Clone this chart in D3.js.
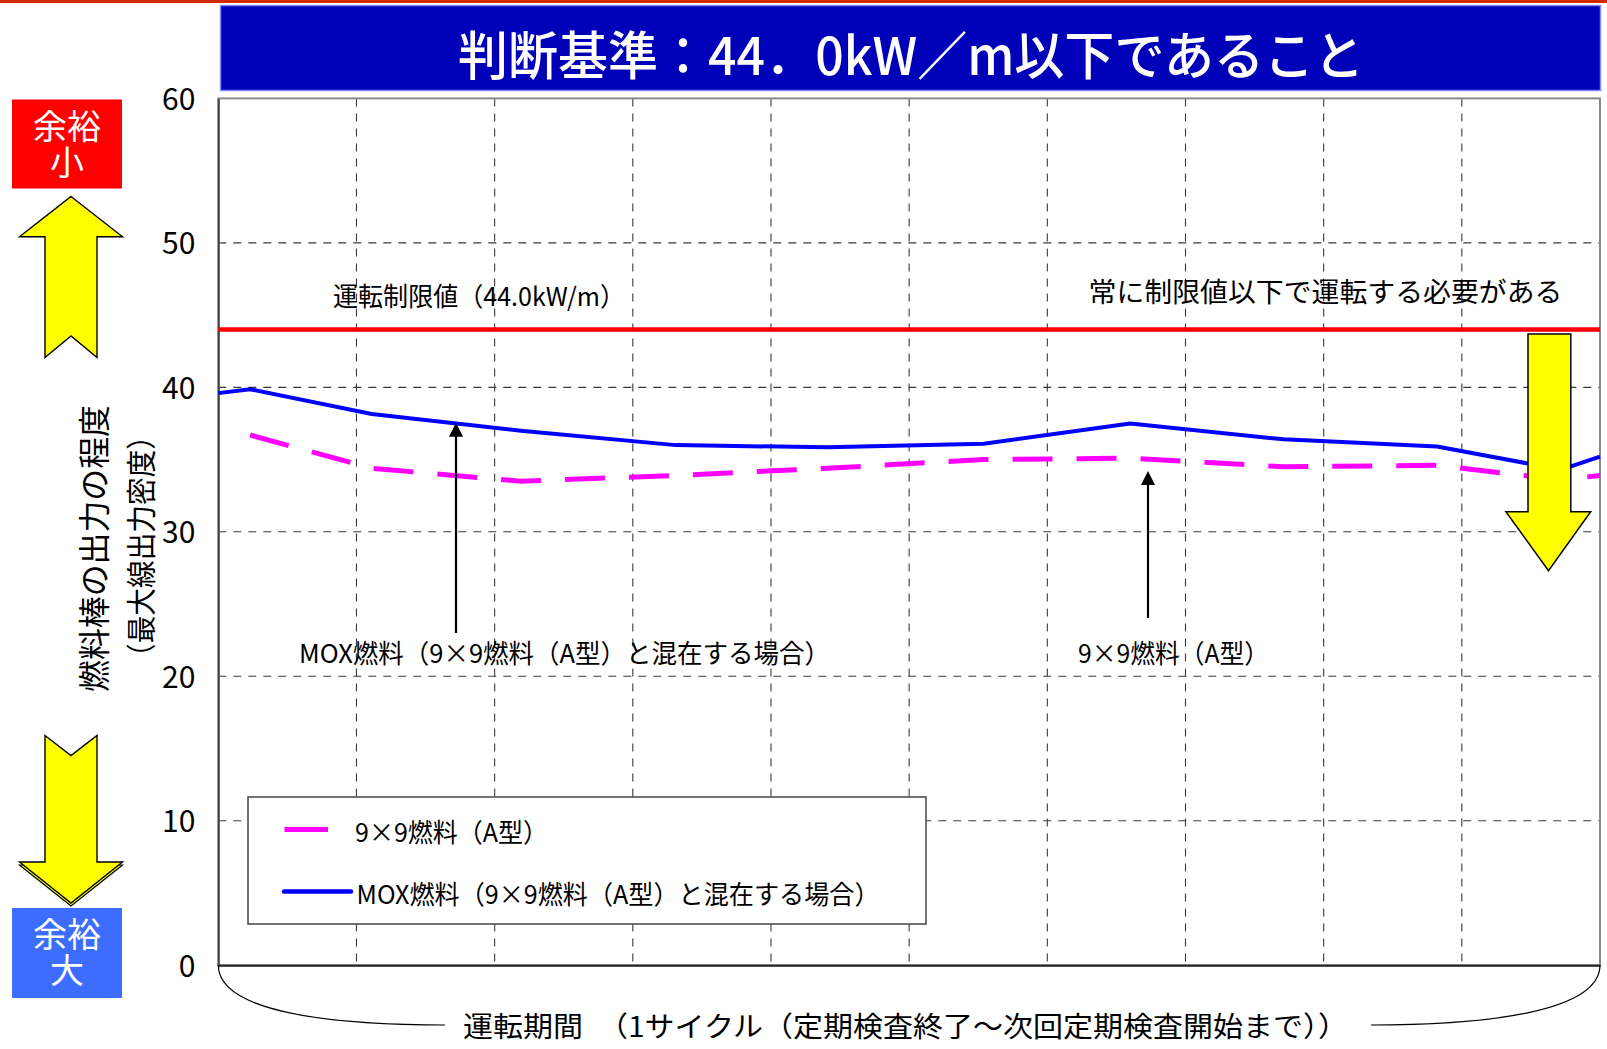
<!DOCTYPE html>
<html>
<head>
<meta charset="utf-8">
<script src="https://cdn.jsdelivr.net/npm/d3@7"></script>
<style>
  html, body { margin: 0; padding: 0; background: #fff; }
  svg { display: block; }
  text { font-family: "Noto Sans CJK JP", "Noto Sans", sans-serif; }
</style>
</head>
<body>
<svg id="chart" width="1607" height="1049"></svg>
<script>
// Position within one operating cycle (0 = start, 10 = end of cycle)
const cyclePosMox = [0, 0.23, 1.11, 2.19, 3.31, 4.41, 5.54, 6.60, 7.71, 8.82, 9.72, 10];
// MOX fuel mixed with 9x9 (type A): maximum linear heat rate, kW/m
const moxValues = [39.6, 39.87, 38.15, 37.0, 36.0, 35.85, 36.1, 37.5, 36.4, 35.9, 34.3, 35.2];

const cyclePos9x9 = [0.23, 1.11, 2.19, 3.31, 4.41, 5.54, 6.60, 7.71, 8.82, 9.72, 10];
// 9x9 fuel (type A): maximum linear heat rate, kW/m
const values9x9 = [36.7, 34.4, 33.5, 33.9, 34.4, 35.0, 35.1, 34.5, 34.6, 33.6, 33.9];

// Operating limit, kW/m
const limitValue = 44.0;

const yTicks = [0, 10, 20, 30, 40, 50, 60];
const xGridTicks = [1, 2, 3, 4, 5, 6, 7, 8, 9];

const titleText = "判断基準：44．0kW／m以下であること";
const limitLabel = "運転制限値（44.0kW/m）";
const noteLabel = "常に制限値以下で運転する必要がある";
const seriesNames = ["9×9燃料（A型）", "MOX燃料（9×9燃料（A型）と混在する場合）"];
const yTitle1 = "燃料棒の出力の程度";
const yTitle2 = "（最大線出力密度）";
const xTitle = "運転期間　（1サイクル（定期検査終了～次回定期検査開始まで））";
const marginSmall = ["余裕", "小"];
const marginLarge = ["余裕", "大"];

const svg = d3.select("#chart");

const plot = { left: 218.3, right: 1600, top: 98.4, bottom: 965.2 };
const x = d3.scaleLinear().domain([0, 10]).range([plot.left, plot.right]);
const y = d3.scaleLinear().domain([0, 60]).range([plot.bottom, plot.top]);

// Top rule
svg.append("rect").attr("x", 0).attr("y", 0).attr("width", 1607).attr("height", 3).attr("fill", "#d22a00");

// Title banner
svg.append("rect").attr("x", 220.5).attr("y", 5.5).attr("width", 1380).attr("height", 85)
  .attr("fill", "#0000b8").attr("stroke", "#7f8cff").attr("stroke-width", 1.5);
svg.append("text").attr("x", 911).attr("y", 52.5)
  .attr("text-anchor", "middle").attr("dominant-baseline", "central")
  .attr("font-size", 52).attr("font-weight", 500).attr("fill", "#fff")
  .attr("textLength", 906).attr("lengthAdjust", "spacingAndGlyphs")
  .text(titleText);

// Gridlines
const grid = svg.append("g").attr("stroke", "#3a3a3a").attr("stroke-width", 1.1).attr("stroke-dasharray", "8,7");
grid.selectAll("line.h").data(yTicks.filter(d => d > 0 && d < 60)).join("line")
  .attr("x1", plot.left).attr("x2", plot.right)
  .attr("y1", d => y(d)).attr("y2", d => y(d));
grid.selectAll("line.v").data(xGridTicks).join("line")
  .attr("x1", d => x(d)).attr("x2", d => x(d))
  .attr("y1", plot.top).attr("y2", plot.bottom);

// Plot frame
svg.append("rect").attr("x", plot.left).attr("y", plot.top)
  .attr("width", plot.right - plot.left).attr("height", plot.bottom - plot.top)
  .attr("fill", "none").attr("stroke", "#8a8a8a").attr("stroke-width", 2);

// Y axis (labels only, ticks hidden)
const yAxis = d3.axisLeft(y).tickValues(yTicks).tickSize(0).tickPadding(23);
const yAxisG = svg.append("g").attr("transform", `translate(${plot.left},0)`).call(yAxis);
yAxisG.select(".domain").attr("stroke", "#444").attr("stroke-width", 2);
yAxisG.selectAll("text").attr("font-family", "'Liberation Sans', Arial, sans-serif")
  .attr("font-size", 30).attr("fill", "#000").attr("dy", "0.36em");

// Bottom axis line
const xAxis = d3.axisBottom(x).tickValues([]).tickSize(0);
const xAxisG = svg.append("g").attr("transform", `translate(0,${plot.bottom})`).call(xAxis);
xAxisG.select(".domain").attr("stroke", "#222").attr("stroke-width", 2);

// Limit line
svg.append("line").attr("x1", plot.left).attr("x2", plot.right)
  .attr("y1", y(limitValue)).attr("y2", y(limitValue))
  .attr("stroke", "#ff0000").attr("stroke-width", 4.5);

const line = d3.line().x(d => x(d[0])).y(d => y(d[1]));

// 9x9 series (dashed magenta)
svg.append("path").datum(d3.zip(cyclePos9x9, values9x9))
  .attr("d", line).attr("fill", "none").attr("stroke", "#ff00ff")
  .attr("stroke-width", 5).attr("stroke-dasharray", "40,24");

// MOX series (solid blue)
svg.append("path").datum(d3.zip(cyclePosMox, moxValues))
  .attr("d", line).attr("fill", "none").attr("stroke", "#0000ff")
  .attr("stroke-width", 4).attr("stroke-linejoin", "round");

// Text labels in plot
function label(txt, x0, yc, size, len, anchor) {
  return svg.append("text").attr("x", x0).attr("y", yc)
    .attr("text-anchor", anchor || "start").attr("dominant-baseline", "central")
    .attr("font-size", size).attr("fill", "#000")
    .attr("textLength", len).attr("lengthAdjust", "spacingAndGlyphs")
    .text(txt);
}
label(limitLabel, 333, 294, 26, 292);
label(noteLabel, 1088.5, 290, 27, 474);
label(seriesNames[1], 299, 651, 26, 531);
label(seriesNames[0], 1078, 651, 26, 191);

// Callout arrows
function callout(px, y0, y1) {
  svg.append("line").attr("x1", px).attr("x2", px).attr("y1", y0).attr("y2", y1 + 12)
    .attr("stroke", "#000").attr("stroke-width", 2.2);
  svg.append("path").attr("d", `M${px},${y1} L${px - 7},${y1 + 14} L${px + 7},${y1 + 14} Z`).attr("fill", "#000");
}
callout(456, 633, y(37.55));
callout(1148, 618, 471);

// Yellow "stay below limit" arrow on the right
svg.append("path")
  .attr("d", "M1528,334 L1570.8,334 L1570.8,511.7 L1590.7,511.7 L1548.5,570.7 L1505.9,511.7 L1528,511.7 Z")
  .attr("fill", "#ffff00").attr("stroke", "#000").attr("stroke-width", 1.5);

// Legend
const lg = svg.append("g");
lg.append("rect").attr("x", 248).attr("y", 797).attr("width", 678).attr("height", 127)
  .attr("fill", "#fff").attr("stroke", "#444").attr("stroke-width", 1.5);
lg.append("line").attr("x1", 284.5).attr("x2", 328).attr("y1", 829.5).attr("y2", 829.5)
  .attr("stroke", "#ff00ff").attr("stroke-width", 5);
lg.append("line").attr("x1", 284).attr("x2", 351).attr("y1", 891.5).attr("y2", 891.5)
  .attr("stroke", "#0000ff").attr("stroke-width", 4.5).attr("stroke-linecap", "round");
label(seriesNames[0], 355, 830, 26, 193);
label(seriesNames[1], 356.5, 892, 26, 523);

// Margin indicators on the left
svg.append("rect").attr("x", 12).attr("y", 99.5).attr("width", 110).attr("height", 89).attr("fill", "#ff0000");
svg.append("rect").attr("x", 12).attr("y", 908).attr("width", 110).attr("height", 90).attr("fill", "#3d6dff");
function boxText(lines, yFirst) {
  const t = svg.append("text").attr("text-anchor", "middle")
    .attr("font-size", 34).attr("fill", "#fff");
  t.selectAll("tspan").data(lines).join("tspan")
    .attr("x", 67).attr("y", (d, i) => yFirst + i * 36)
    .attr("dominant-baseline", "central").text(d => d);
}
boxText(marginSmall, 124);
boxText(marginLarge, 932);

// Up arrow (smaller margin) and down arrow (larger margin)
svg.append("path")
  .attr("d", "M71,196.5 L122.5,236.8 L97,236.8 L97,357.5 L71,336 L45,357.5 L45,236.8 L19.5,236.8 Z")
  .attr("fill", "#ffff00").attr("stroke", "#000").attr("stroke-width", 1.4);
svg.append("path")
  .attr("d", "M19.5,865 L122.5,865 L71,906 Z")
  .attr("fill", "#ffff00").attr("stroke", "#000").attr("stroke-width", 1.2);
svg.append("path")
  .attr("d", "M45,735.5 L71,755.5 L97,735.5 L97,862 L122.5,862 L71,903 L19.5,862 L45,862 Z")
  .attr("fill", "#ffff00").attr("stroke", "#000").attr("stroke-width", 1.4);

// Y axis title (two rotated lines)
function vText(txt, cx, cy, size, len) {
  svg.append("text").attr("transform", `translate(${cx},${cy}) rotate(-90)`)
    .attr("text-anchor", "middle").attr("dominant-baseline", "central")
    .attr("font-size", size).attr("fill", "#000")
    .attr("textLength", len).attr("lengthAdjust", "spacingAndGlyphs").text(txt);
}
vText(yTitle1, 91.5, 548.5, 32, 287);
vText(yTitle2, 138.5, 546.5, 30, 249);

// Brace under the time axis
svg.append("path").attr("d", "M218.3,965 C218.3,1012 330,1025 445,1025")
  .attr("fill", "none").attr("stroke", "#000").attr("stroke-width", 1.2);
svg.append("path").attr("d", "M1371,1025 C1486,1025 1600,1012 1600,965")
  .attr("fill", "none").attr("stroke", "#000").attr("stroke-width", 1.2);
label(xTitle, 463, 1025, 28, 885);
</script>
</body>
</html>
